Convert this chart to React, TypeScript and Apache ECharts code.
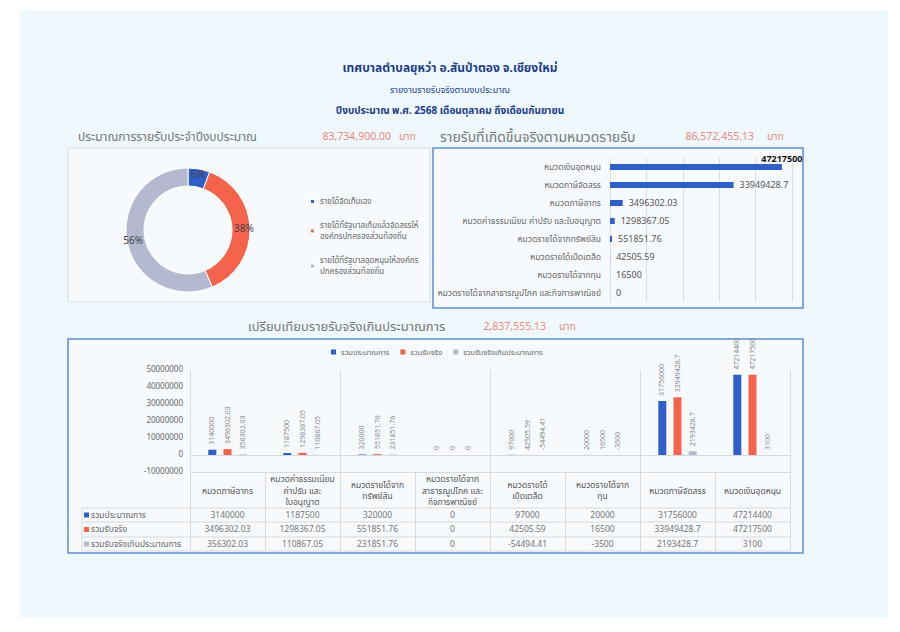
import React, { useEffect, useRef } from "react";
import * as echarts from "echarts";

const titleLines = [
  "เทศบาลตำบลยุหว่า อ.สันป่าตอง จ.เชียงใหม่",
  "รายงานรายรับจริงตามงบประมาณ",
  "ปีงบประมาณ พ.ศ. 2568 เดือนตุลาคม ถึงเดือนกันยายน",
];

const sectionTitles = [
  "ประมาณการรายรับประจำปีงบประมาณ",
  "รายรับที่เกิดขึ้นจริงตามหมวดรายรับ",
  "เปรียบเทียบรายรับจริงเกินประมาณการ",
];
const unitText = "บาท";

const pieNames = [
  "รายได้จัดเก็บเอง",
  "รายได้ที่รัฐบาลเก็บแล้วจัดสรรให้\nองค์กรปกครองส่วนท้องถิ่น",
  "รายได้ที่รัฐบาลอุดหนุนให้องค์กร\nปกครองส่วนท้องถิ่น",
];
const pieValues = [4764500, 31756000, 47214400];

const hbarCategories = [
  "หมวดเงินอุดหนุน",
  "หมวดภาษีจัดสรร",
  "หมวดภาษีอากร",
  "หมวดค่าธรรมเนียม ค่าปรับ และใบอนุญาต",
  "หมวดรายได้จากทรัพย์สิน",
  "หมวดรายได้เบ็ดเตล็ด",
  "หมวดรายได้จากทุน",
  "หมวดรายได้จากสาธารณูปโภค และกิจการพาณิชย์",
];
const hbarValues = [47217500, 33949428.7, 3496302.03, 1298367.05, 551851.76, 42505.59, 16500, 0];

const compareCategories = [
  "หมวดภาษีอากร",
  "หมวดค่าธรรมเนียม\nค่าปรับ และ\nใบอนุญาต",
  "หมวดรายได้จาก\nทรัพย์สิน",
  "หมวดรายได้จาก\nสาธารณูปโภค และ\nกิจการพาณิชย์",
  "หมวดรายได้\nเบ็ดเตล็ด",
  "หมวดรายได้จาก\nทุน",
  "หมวดภาษีจัดสรร",
  "หมวดเงินอุดหนุน",
];
const seriesNames = ["รวมประมาณการ", "รวมรับจริง", "รวมรับจริงเกินประมาณการ"];
const estimateValues = [3140000, 1187500, 320000, 0, 97000, 20000, 31756000, 47214400];
const actualValues = [3496302.03, 1298367.05, 551851.76, 0, 42505.59, 16500, 33949428.7, 47217500];
const overValues = [356302.03, 110867.05, 231851.76, 0, -54494.41, -3500, 2193428.7, 3100];

const budgetAxisMin = -10000000;
const budgetAxisMax = 50000000;
const budgetAxisStep = 10000000;

const BLUE = "#2f5fc9";
const RED = "#f5634d";
const GRAY = "#b5b9cf";
const FONT = "'Noto Sans Thai','Tahoma','Noto Sans','DejaVu Sans',sans-serif";

const sum = (a: number[]) => a.reduce((s, v) => s + v, 0);
const money = (v: number) =>
  (Math.round(v * 100) / 100).toLocaleString("en-US", { minimumFractionDigits: 2, maximumFractionDigits: 2 });

export default function App() {
  const ref = useRef<HTMLDivElement>(null);
  useEffect(() => {
    if (!ref.current) return;
    const chart = echarts.init(ref.current, undefined, { renderer: "svg" });
    const compareSeries = [estimateValues, actualValues, overValues];
    const colors = [BLUE, RED, GRAY];
    const rowY = [515, 529.5, 544];

    const txt = (text: string, x: number, y: number, size: number, fill: string, extra: any = {}) => ({
      type: "text",
      z: 10,
      style: { text, x, y, fontSize: size, fill, fontFamily: FONT, verticalAlign: "middle", ...extra },
    });
    const line = (x1: number, y1: number, x2: number, y2: number, color = "#d9d9d9") => ({
      type: "line",
      z: 1,
      shape: { x1, y1, x2, y2 },
      style: { stroke: color, lineWidth: 1 },
    });
    const SALMON = "#f08a78";

    const graphics: any[] = [
      { type: "rect", z: -10, shape: { x: 20, y: 10, width: 868, height: 608 }, style: { fill: "#eff8fc" } },
      { type: "rect", z: -9, shape: { x: 68, y: 148, width: 362, height: 154 }, style: { fill: "#f6fafd", stroke: "#d6dde4", lineWidth: 1 } },
      { type: "rect", z: -9, shape: { x: 433, y: 148, width: 370, height: 160 }, style: { fill: "#f6fafd", stroke: "#5b8fd6", lineWidth: 1.5 } },
      { type: "rect", z: -9, shape: { x: 68, y: 339, width: 735, height: 214 }, style: { fill: "#f6fafd", stroke: "#5b8fd6", lineWidth: 1.5 } },
      txt(titleLines[0], 450, 68, 12, "#1c3d8c", { align: "center", fontWeight: "bold" }),
      txt(titleLines[1], 450, 90, 9, "#1c3d8c", { align: "center" }),
      txt(titleLines[2], 450, 111, 10, "#1c3d8c", { align: "center", fontWeight: "bold" }),
      txt(sectionTitles[0], 78, 137, 12, "#777777"),
      txt(money(sum(estimateValues)), 391, 137, 10.5, SALMON, { align: "right" }),
      txt(unitText, 399, 137, 10.5, SALMON),
      txt(sectionTitles[1], 440, 137, 14, "#777777"),
      txt(money(sum(actualValues)), 754, 137, 10.5, SALMON, { align: "right" }),
      txt(unitText, 767, 137, 10.5, SALMON),
      txt(sectionTitles[2], 248, 327, 13, "#777777"),
      txt(money(sum(overValues)), 546, 327, 10.5, SALMON, { align: "right" }),
      txt(unitText, 559, 327, 10.5, SALMON),
    ];
    // table frame
    [508, 522, 537, 551].forEach((y) => graphics.push(line(82, y, 790, y)));
    graphics.push(line(82, 508, 82, 551));
    seriesNames.forEach((n, i) => {
      graphics.push({ type: "rect", z: 10, shape: { x: 84, y: rowY[i] - 2.5, width: 5, height: 5 }, style: { fill: colors[i] } });
      graphics.push(txt(n, 91, rowY[i], 8.5, "#666666"));
    });

    const rowAxes = compareSeries.map((vals, i) => ({
      type: "category",
      gridIndex: 1,
      position: "bottom",
      data: compareCategories,
      axisLine: { show: false, onZero: false },
      axisTick: { show: false },
      splitLine: { show: false },
      axisLabel: {
        interval: 0,
        margin: rowY[i] - 472,
        verticalAlign: "middle",
        fontSize: 8.5,
        color: "#777777",
        formatter: (_v: string, idx: number) => String(vals[idx]),
      },
    }));

    const option: any = {
      animation: false,
      backgroundColor: "#ffffff",
      textStyle: { fontFamily: FONT },
      graphic: graphics,
      legend: [
        {
          data: pieNames,
          orient: "vertical",
          left: 304,
          top: 191,
          itemWidth: 5,
          itemHeight: 5,
          itemGap: 13,
          icon: "rect",
          textStyle: { fontSize: 8, color: "#666666", lineHeight: 11 },
        },
        {
          data: seriesNames,
          left: 326,
          top: 343,
          itemWidth: 5,
          itemHeight: 5,
          itemGap: 11,
          icon: "rect",
          textStyle: { fontSize: 7.5, color: "#666666" },
        },
      ],
      grid: [
        { left: 610, right: 108, top: 158, bottom: 330 },
        { left: 190, right: 110, top: 370, bottom: 160 },
      ],
      xAxis: [
        {
          type: "value",
          gridIndex: 0,
          min: 0,
          max: budgetAxisMax,
          interval: budgetAxisStep,
          axisLabel: { show: false },
          axisLine: { show: false },
          axisTick: { show: false },
          splitLine: { lineStyle: { color: "#dadde2" } },
        },
        {
          type: "category",
          gridIndex: 1,
          data: compareCategories,
          axisLine: { show: false },
          axisTick: { show: false },
          axisLabel: { show: false },
          splitLine: { show: true, lineStyle: { color: "#d9dde3" } },
        },
        {
          type: "category",
          gridIndex: 1,
          position: "bottom",
          data: compareCategories,
          axisLine: { show: false, onZero: false },
          axisTick: { show: true, length: 79, lineStyle: { color: "#d9d9d9" } },
          axisLabel: {
            interval: 0,
            margin: 19,
            verticalAlign: "middle",
            fontSize: 8.5,
            lineHeight: 11.5,
            color: "#555555",
          },
        },
        ...rowAxes,
      ],
      yAxis: [
        {
          type: "category",
          gridIndex: 0,
          inverse: true,
          data: hbarCategories,
          axisLine: { show: false },
          axisTick: { show: false },
          axisLabel: { fontSize: 8.5, color: "#666666", margin: 9 },
        },
        {
          type: "value",
          gridIndex: 1,
          min: budgetAxisMin,
          max: budgetAxisMax,
          interval: budgetAxisStep,
          axisLine: { show: false },
          axisTick: { show: false },
          axisLabel: { fontSize: 8, color: "#666666", margin: 7, formatter: (v: number) => String(v) },
          splitLine: {
            show: true,
            lineStyle: { color: ["#d9d9d9", "#d9d9d9", "transparent", "transparent", "transparent", "transparent", "transparent"] },
          },
        },
      ],
      series: [
        {
          type: "pie",
          center: [188, 230],
          radius: [44, 62],
          startAngle: 90,
          legendHoverLink: false,
          data: pieNames.map((n, i) => ({ name: n, value: pieValues[i] })),
          color: [BLUE, RED, GRAY],
          itemStyle: { borderColor: "#ffffff", borderWidth: 1 },
          label: {
            show: true,
            position: "inside",
            fontSize: 10,
            color: "#444444",
            formatter: (p: any) => Math.round(p.percent) + "%",
          },
          labelLine: { show: false },
        },
        {
          type: "bar",
          xAxisIndex: 0,
          yAxisIndex: 0,
          barWidth: 6,
          itemStyle: { color: BLUE },
          data: hbarValues.map((v) =>
            v === Math.max(...hbarValues)
              ? {
                  value: v,
                  label: {
                    position: ["100%", -1],
                    align: "center",
                    verticalAlign: "bottom",
                    color: "#111111",
                    fontWeight: "bold",
                  },
                }
              : v
          ),
          label: {
            show: true,
            position: "right",
            distance: 6,
            fontSize: 9,
            color: "#555555",
            formatter: (p: any) => String(p.value),
          },
        },
        ...compareSeries.map((vals, i) => ({
          type: "bar",
          name: seriesNames[i],
          xAxisIndex: 1,
          yAxisIndex: 1,
          barWidth: 8,
          barGap: "90%",
          itemStyle: { color: colors[i] },
          data: vals,
          label: {
            show: true,
            position: "top",
            rotate: 90,
            align: "left",
            verticalAlign: "middle",
            distance: 5,
            fontSize: 7,
            color: "#8a8a8a",
            formatter: (p: any) => String(p.value),
          },
        })),
      ],
    };
    chart.setOption(option);
    return () => chart.dispose();
  }, []);
  return <div ref={ref} style={{ position: "absolute", left: 0, top: 0, width: 900, height: 632 }} />;
}
